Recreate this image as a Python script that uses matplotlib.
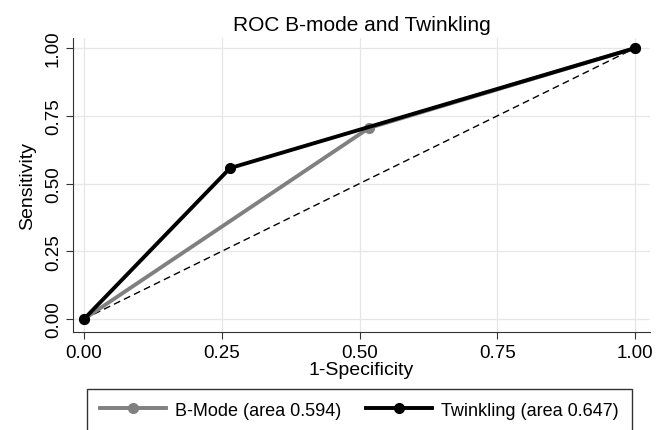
import matplotlib
matplotlib.use("Agg")
import matplotlib.pyplot as plt

# Valores
bmode_fpr = [0.0, 0.517, 1.0]
bmode_tpr = [0.0, 0.705, 1.0]
twink_fpr = [0.0, 0.265, 1.0]
twink_tpr = [0.0, 0.557, 1.0]
ticks = [0.0, 0.25, 0.50, 0.75, 1.0]
tick_labels = ["0.00", "0.25", "0.50", "0.75", "1.00"]

plt.rcParams['font.family'] = ['Liberation Sans', 'DejaVu Sans']

fig = plt.figure(figsize=(6.64, 4.31), dpi=100)
ax = fig.add_axes([0.110, 0.2274, 0.869, 0.682])

ax.plot(bmode_fpr, bmode_tpr, color='#808080', lw=2.8, marker='o', ms=7,
        label="B-Mode (area 0.594)", zorder=3)
ax.plot(twink_fpr, twink_tpr, color='black', lw=2.8, marker='o', ms=7,
        label="Twinkling (area 0.647)", zorder=4)
ax.plot([0, 1], [0, 1], color='black', lw=1.0, linestyle=(0, (5, 3)), zorder=2)

ax.set_xlim(-0.02, 1.027)
ax.set_ylim(-0.048, 1.037)
ax.set_xticks(ticks)
ax.set_xticklabels(tick_labels, fontsize=13.5)
ax.set_yticks(ticks)
ax.set_yticklabels(tick_labels, fontsize=13.5, rotation=90, va='center')
ax.grid(True, color='#e6e6e6', lw=0.9)
ax.set_axisbelow(True)
for s in ['top', 'right']:
    ax.spines[s].set_visible(False)
ax.spines['left'].set_color('#333333')
ax.spines['bottom'].set_color('#333333')
ax.tick_params(direction='out', length=5, color='#333333', pad=3)
ax.tick_params(axis='x', pad=4)

ax.set_title("ROC B-mode and Twinkling", fontsize=15, pad=6)
ax.set_xlabel("1-Specificity", fontsize=14, labelpad=0)
ax.set_ylabel("Sensitivity", fontsize=14, labelpad=6)

fig.legend(loc='upper center', bbox_to_anchor=(0.5414, (431 - 390) / 431), ncol=2,
           fontsize=13, frameon=True, fancybox=False, edgecolor='black',
           handlelength=3.65, handletextpad=0.5, columnspacing=1.4,
           borderpad=0.7, borderaxespad=0)

fig.savefig("out.png", dpi=100)
